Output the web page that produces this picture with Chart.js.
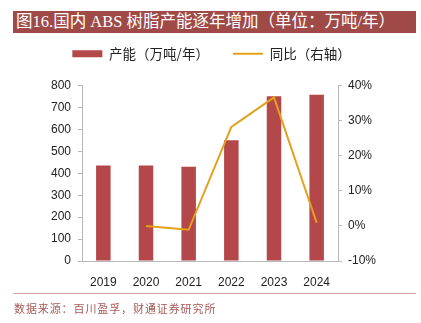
<!DOCTYPE html>
<html>
<head>
<meta charset="utf-8">
<script src="https://cdn.jsdelivr.net/npm/chart.js@4.4.0/dist/chart.umd.min.js"></script>
<style>
  body { margin: 0; background: #fff; width: 421px; height: 323px; position: relative; overflow: hidden; }
  #title {
    position: absolute; left: 13px; top: 11px; width: 400px; height: 22px;
    padding-left: 3px; background: #9f4a47; color: #fff;
    font: 16.5px "Liberation Serif", "Noto Sans CJK SC", serif; line-height: 22px; white-space: nowrap;
  }
  #footLine { position: absolute; left: 13px; top: 293px; width: 403px; height: 1px; background: #d9a5a4; }
  #foot {
    position: absolute; left: 14px; top: 300px; color: #a65a56; letter-spacing: 0.9px;
    font: 11px "Noto Sans CJK SC", sans-serif; line-height: 16px; white-space: nowrap;
  }
  #c { position: absolute; left: 0; top: 0; }
</style>
</head>
<body>
<canvas id="c" width="421" height="323"></canvas>
<div id="title">图16.国内 ABS 树脂产能逐年增加（单位：万吨/年）</div>
<div id="footLine"></div>
<div id="foot">数据来源：百川盈孚，财通证券研究所</div>
<script>
  const years = ["2019", "2020", "2021", "2022", "2023", "2024"];
  const capacity = [435, 435, 430, 550, 751, 758];
  const yoy = [null, 0, -1.1, 28.2, 36.6, 0.9];
  const capacityLabel = "产能（万吨/年）";
  const yoyLabel = "同比（右轴）";

  const tickFont = { family: "Liberation Sans, Arial, sans-serif", size: 12 };
  const axisGray = "#b8b8b8";

  // stretch legend box so the plot starts lower
  const legendGap = {
    id: "legendGap",
    beforeInit(chart) {
      const fit = chart.legend.fit;
      chart.legend.fit = function () {
        fit.bind(chart.legend)();
        this.height += 15;
      };
    },
  };

  const ctx = document.getElementById("c").getContext("2d");
  new Chart(ctx, {
    data: {
      labels: years,
      datasets: [
        {
          type: "line",
          label: yoyLabel,
          data: yoy,
          yAxisID: "y1",
          borderColor: "#e3a11c",
          backgroundColor: "#e3a11c",
          borderWidth: 2,
          pointRadius: 0,
          tension: 0,
          pointStyle: "line",
          order: 0,
        },
        {
          type: "bar",
          label: capacityLabel,
          data: capacity,
          yAxisID: "y",
          backgroundColor: "#b4474a",
          barPercentage: 0.34,
          categoryPercentage: 1,
          pointStyle: "rect",
          order: 1,
        },
      ],
    },
    options: {
      responsive: false,
      animation: false,
      layout: { padding: { top: 23, left: 2, right: 0, bottom: 0 } },
      plugins: {
        tooltip: { enabled: false },
        legend: {
          position: "top",
          reverse: true,
          labels: {
            usePointStyle: true,
            pointStyleWidth: 30,
            boxHeight: 7,
            padding: 24,
            color: "#222",
            font: { family: "Noto Sans CJK SC, sans-serif", size: 13.5 },
          },
        },
      },
      scales: {
        x: {
          grid: { display: false },
          border: { display: true, color: axisGray, width: 1 },
          ticks: { color: "#222", font: tickFont, padding: 6 },
          afterFit(scale) { scale.height = 62; },
        },
        y: {
          position: "left",
          min: 0,
          max: 800,
          ticks: { stepSize: 100, color: "#222", font: tickFont, padding: 7 },
          grid: { drawOnChartArea: false, drawTicks: true, tickLength: 4, color: axisGray },
          border: { display: true, color: axisGray },
          afterFit(scale) { scale.width = 80; },
        },
        y1: {
          position: "right",
          min: -10,
          max: 40,
          ticks: {
            stepSize: 10,
            color: "#222",
            font: tickFont,
            padding: 6,
            callback: (v) => v + "%",
          },
          grid: { drawOnChartArea: false, drawTicks: true, tickLength: 4, color: axisGray },
          border: { display: true, color: axisGray },
          afterFit(scale) { scale.width = 83; },
        },
      },
    },
    plugins: [legendGap],
  });
</script>
</body>
</html>
